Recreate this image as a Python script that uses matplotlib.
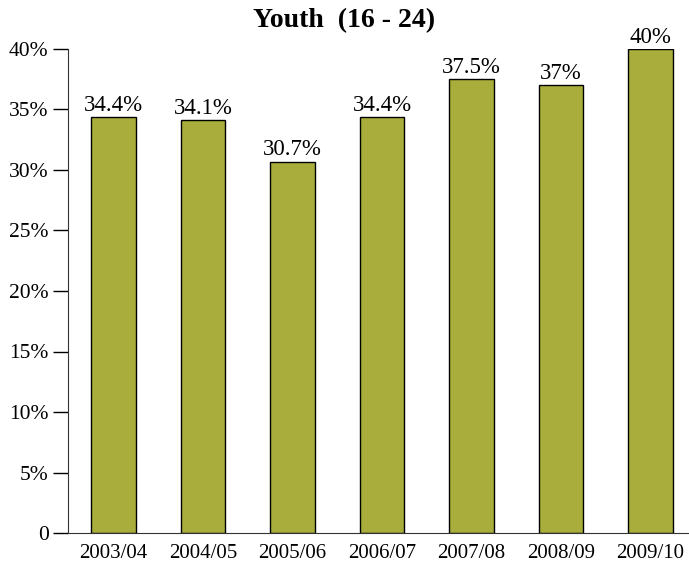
import matplotlib.pyplot as plt

plt.rcParams['font.family'] = ['Liberation Serif', 'DejaVu Serif']

years = ['2003/04', '2004/05', '2005/06', '2006/07', '2007/08', '2008/09', '2009/10']
values = [34.4, 34.1, 30.7, 34.4, 37.5, 37.0, 40.0]
labels = ['34.4%', '34.1%', '30.7%', '34.4%', '37.5%', '37%', '40%']
yticks = [0, 5, 10, 15, 20, 25, 30, 35, 40]
ytick_labels = ['0', '5%', '10%', '15%', '20%', '25%', '30%', '35%', '40%']

fig = plt.figure(figsize=(6.89, 5.62), dpi=100)
ax = fig.add_axes([68 / 689, 29 / 562, 620 / 689, 484 / 562])

x = range(len(years))
bars = ax.bar(x, values, width=0.5, color='#A8AD3C', edgecolor='black', linewidth=1)
for b, lab in zip(bars, labels):
    ax.text(b.get_x() + b.get_width() / 2, b.get_height() + 0.1, lab,
            ha='center', va='bottom', fontsize=16.5)

ax.set_xlim(-0.51, 6.42)
ax.set_ylim(0, 40)
ax.set_xticks(list(x))
ax.set_xticklabels(years, fontsize=15)
ax.tick_params(axis='x', length=0, pad=8)
ax.set_yticks(yticks)
ax.set_yticklabels(ytick_labels, fontsize=15.5)
ax.tick_params(axis='y', length=11, width=1, pad=3)

for s in ['top', 'right']:
    ax.spines[s].set_visible(False)
ax.spines['left'].set_color('#333333')
ax.spines['bottom'].set_color('#333333')

fig.text(0.5, 0.963, 'Youth  (16 - 24)', ha='center', va='center',
         fontsize=20, fontweight='bold')

fig.savefig('out.png', dpi=100)
